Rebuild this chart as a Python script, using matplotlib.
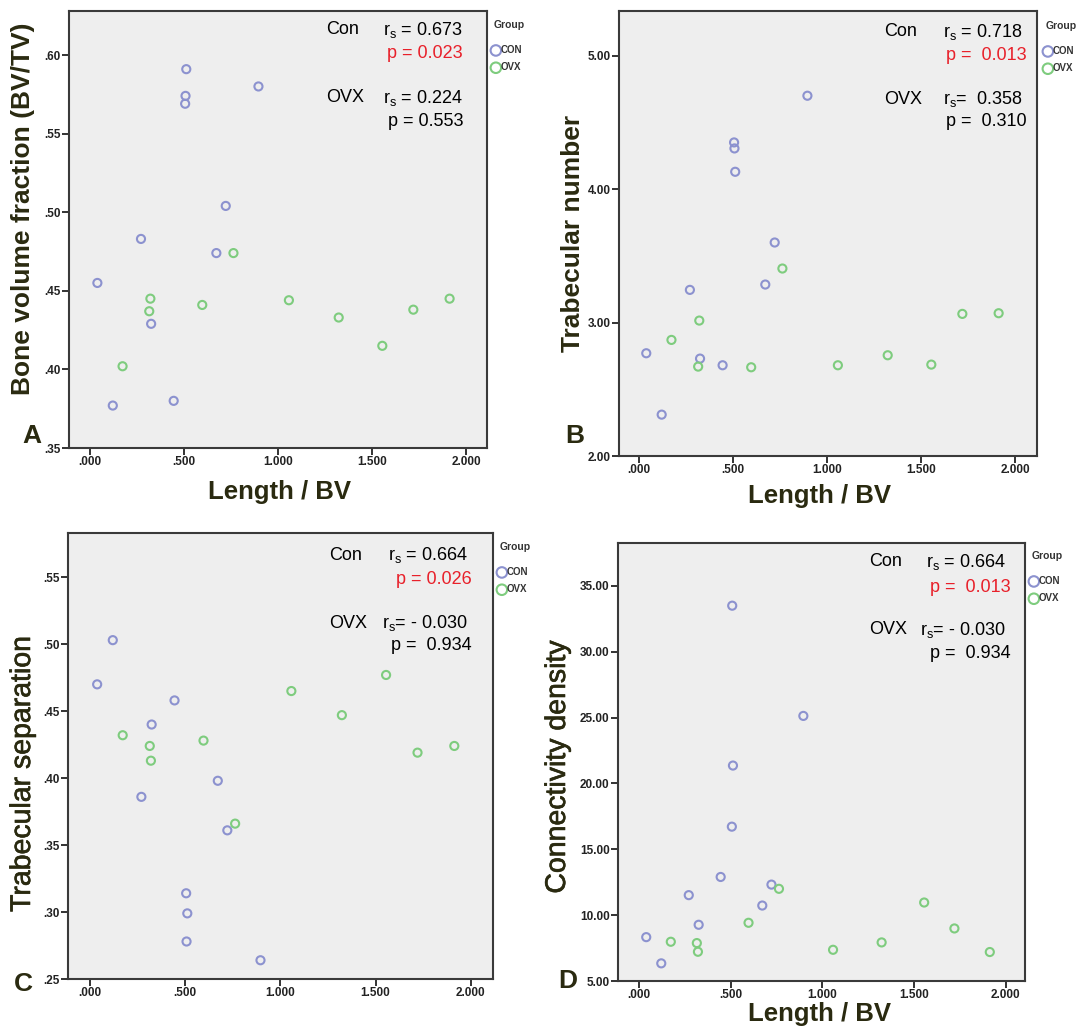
import matplotlib.pyplot as plt
import matplotlib.patheffects as pe

plt.rcParams['font.family'] = ['Liberation Sans', 'DejaVu Sans']
plt.rcParams['mathtext.default'] = 'regular'

W, H = 1085, 1029

# Length / BV for each animal (shared by all four panels)
con_x = [0.039, 0.121, 0.271, 0.325, 0.445, 0.506, 0.508, 0.512, 0.672, 0.722, 0.896]
ovx_x = [0.173, 0.315, 0.321, 0.597, 0.763, 1.058, 1.323, 1.555, 1.720, 1.913]

# A - bone volume fraction
con_bvtv = [0.455, 0.377, 0.483, 0.429, 0.380, 0.569, 0.574, 0.591, 0.474, 0.504, 0.580]
ovx_bvtv = [0.402, 0.437, 0.445, 0.441, 0.474, 0.444, 0.433, 0.415, 0.438, 0.445]
# B - trabecular number
con_tbn = [2.77, 2.31, 3.245, 2.73, 2.68, 4.35, 4.305, 4.13, 3.285, 3.60, 4.70]
ovx_tbn = [2.87, 2.67, 3.015, 2.665, 3.405, 2.68, 2.755, 2.685, 3.065, 3.07]
# C - trabecular separation
con_tbsp = [0.470, 0.503, 0.386, 0.440, 0.458, 0.314, 0.278, 0.299, 0.398, 0.361, 0.264]
ovx_tbsp = [0.432, 0.424, 0.413, 0.428, 0.366, 0.465, 0.447, 0.477, 0.419, 0.424]
# D - connectivity density
con_connd = [8.33, 6.34, 11.52, 9.27, 12.9, 16.72, 33.5, 21.36, 10.73, 12.32, 25.13]
ovx_connd = [7.98, 7.88, 7.22, 9.42, 12.0, 7.37, 7.93, 10.96, 8.99, 7.2]

x_ticks = [0.0, 0.5, 1.0, 1.5, 2.0]
x_ticklabels = ['.000', '.500', '1.000', '1.500', '2.000']

stats_A = ['r$_s$ = 0.673', 'p = 0.023', 'r$_s$ = 0.224', 'p = 0.553']
stats_B = ['r$_s$ = 0.718', 'p =  0.013', 'r$_s$=  0.358', 'p =  0.310']
stats_C = ['r$_s$ = 0.664', 'p = 0.026', 'r$_s$= - 0.030', 'p =  0.934']
stats_D = ['r$_s$ = 0.664', 'p =  0.013', 'r$_s$= - 0.030', 'p =  0.934']

CON_COLOR = '#8c92cf'
OVX_COLOR = '#7ecc7e'
LABEL_COLOR = '#2a2a10'
RED = '#e8202a'

fig = plt.figure(figsize=(W / 100, H / 100), dpi=100)


def fx(px):
    return px / W


def fy(py):
    return 1 - py / H


semi = [pe.withStroke(linewidth=0.45, foreground=LABEL_COLOR)]

panels = [
    dict(box=(69, 11, 487, 448), xlim=(-0.112, 2.112), ylim=(0.35, 0.628),
         yticks=[0.35, 0.40, 0.45, 0.50, 0.55, 0.60],
         yticklabels=['.35', '.40', '.45', '.50', '.55', '.60'],
         con=con_bvtv, ovx=ovx_bvtv, ylabel='Bone volume fraction (BV/TV)', wt='bold', ysz=19,
         ylab_at=(23, 209), letter='A', letter_at=(32, 436), xlab_at=(279, 492),
         stats=stats_A, sx=(326, 463, 463), sy=(30, 53, 98, 121), group_at=(494, 25)),
    dict(box=(619, 11, 1037, 456), xlim=(-0.106, 2.117), ylim=(2.0, 5.335),
         yticks=[2, 3, 4, 5], yticklabels=['2.00', '3.00', '4.00', '5.00'],
         con=con_tbn, ovx=ovx_tbn, ylabel='Trabecular number', wt='bold', ysz=19,
         ylab_at=(573, 233), letter='B', letter_at=(575, 436), xlab_at=(820, 496),
         stats=stats_B, sx=(884, 1023, 1027), sy=(32, 55, 99, 122), group_at=(1046, 26)),
    dict(box=(68, 533, 493, 979), xlim=(-0.114, 2.116), ylim=(0.25, 0.583),
         yticks=[0.25, 0.30, 0.35, 0.40, 0.45, 0.50, 0.55],
         yticklabels=['.25', '.30', '.35', '.40', '.45', '.50', '.55'],
         con=con_tbsp, ovx=ovx_tbsp, ylabel='Trabecular separation', wt='normal', ysz=20.5,
         ylab_at=(23, 774), letter='C', letter_at=(23, 984), xlab_at=None,
         stats=stats_C, sx=(329, 468, 472), sy=(555, 580, 623, 646), group_at=(500, 547)),
    dict(box=(618, 543, 1025, 981), xlim=(-0.115, 2.105), ylim=(5.0, 38.26),
         yticks=[5, 10, 15, 20, 25, 30, 35],
         yticklabels=['5.00', '10.00', '15.00', '20.00', '25.00', '30.00', '35.00'],
         con=con_connd, ovx=ovx_connd, ylabel='Connectivity density', wt='normal', ysz=20.5,
         ylab_at=(558, 767), letter='D', letter_at=(568, 981), xlab_at=(820, 1014),
         stats=stats_D, sx=(869, 1006, 1011), sy=(562, 587, 630, 653), group_at=(1032, 556)),
]

for p in panels:
    l, t, r, b = p['box']
    ax = fig.add_axes([fx(l), fy(b), (r - l) / W, (b - t) / H])
    ax.set_facecolor('#eeeeee')
    ax.scatter(con_x, p['con'], s=34, facecolors='none', edgecolors=CON_COLOR,
               linewidths=1.5, label='CON', zorder=3)
    ax.scatter(ovx_x, p['ovx'], s=34, facecolors='none', edgecolors=OVX_COLOR,
               linewidths=1.5, label='OVX', zorder=3)
    ax.set_xlim(*p['xlim'])
    ax.set_ylim(*p['ylim'])
    ax.set_xticks(x_ticks)
    ax.set_xticklabels(x_ticklabels)
    ax.set_yticks(p['yticks'])
    ax.set_yticklabels(p['yticklabels'])
    ax.tick_params(length=5, width=1.4, color='#333333', pad=1, labelsize=8.5,
                   labelcolor='#222222')
    for lab in ax.get_xticklabels() + ax.get_yticklabels():
        lab.set_fontweight('bold')
    for sp in ax.spines.values():
        sp.set_color('#3a3a3a')
        sp.set_linewidth(1.5)

    # legend: "Group" heading, then the two marker entries
    gx, gy = p['group_at']
    fig.text(fx(gx), fy(gy), 'Group', ha='left', va='center', fontsize=7.5,
             fontweight='bold', color='#333333')
    leg = ax.legend(loc='upper left', bbox_to_anchor=(fx(gx - 3), fy(gy + 20)),
                    bbox_transform=fig.transFigure, frameon=False,
                    prop={'weight': 'bold', 'size': 7}, borderpad=0, borderaxespad=0,
                    handletextpad=0.0, handlelength=1.0, labelspacing=0.75, markerscale=1.3)
    for txt in leg.get_texts():
        txt.set_color('#333333')

    # axis labels and panel letter
    pe_lab = semi if p['wt'] == 'normal' else None
    fig.text(fx(p['ylab_at'][0]), fy(p['ylab_at'][1]), p['ylabel'], rotation=90,
             ha='center', va='center', fontsize=p['ysz'], fontweight=p['wt'],
             color=LABEL_COLOR, path_effects=pe_lab)
    fig.text(fx(p['letter_at'][0]), fy(p['letter_at'][1]), p['letter'],
             ha='center', va='center', fontsize=19, fontweight='bold', color=LABEL_COLOR)
    if p['xlab_at'] is not None:
        fig.text(fx(p['xlab_at'][0]), fy(p['xlab_at'][1]), 'Length / BV',
                 ha='center', va='center', fontsize=18.5, fontweight='bold', color=LABEL_COLOR)

    # correlation annotations
    cl, rr, pr = p['sx']
    y1, y2, y3, y4 = p['sy']
    s = p['stats']
    fig.text(fx(cl), fy(y1), 'Con', ha='left', va='center', fontsize=13)
    fig.text(fx(rr), fy(y1), s[0], ha='right', va='center', fontsize=13)
    fig.text(fx(pr), fy(y2), s[1], ha='right', va='center', fontsize=13, color=RED)
    fig.text(fx(cl), fy(y3), 'OVX', ha='left', va='center', fontsize=13)
    fig.text(fx(rr), fy(y3), s[2], ha='right', va='center', fontsize=13)
    fig.text(fx(pr), fy(y4), s[3], ha='right', va='center', fontsize=13)

fig.savefig('out.png', dpi=100, facecolor='white')
